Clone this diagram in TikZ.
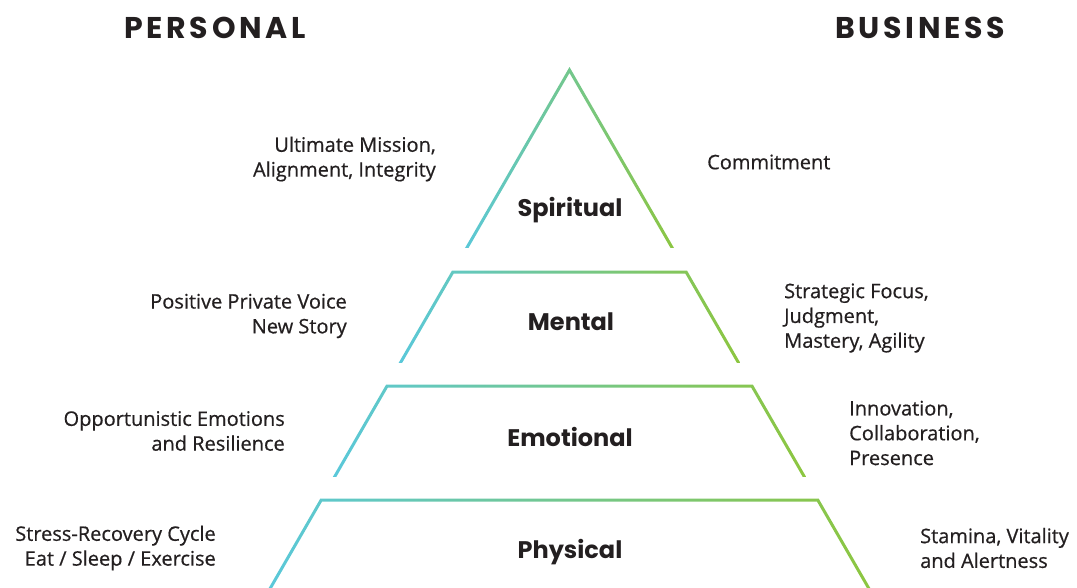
\documentclass[tikz,border=0pt]{standalone}
\usepackage{fontspec}
\setmainfont{Open Sans}
\newfontfamily\bodyfont{Open Sans}[FakeBold=0.6]
\newfontfamily\headfont{Poppins}[LetterSpace=12]
\newfontfamily\layerfont{Poppins}
\definecolor{pcyan}{RGB}{90,200,218}
\definecolor{pgreen}{RGB}{141,198,63}
\definecolor{ink}{RGB}{35,31,32}
\tikzset{
	side/.style={font=\bodyfont\fontsize{20}{24.8}\selectfont, text=ink, inner sep=0pt},
	leftside/.style={side, align=right, anchor=east},
	rightside/.style={side, align=left, anchor=west},
	layer/.style={font=\layerfont\bfseries\fontsize{24}{28}\selectfont, text=ink, inner sep=0pt},
	head/.style={font=\headfont\bfseries\fontsize{30}{32}\selectfont, text=ink, inner sep=0pt}
}
\begin{document}
\begin{tikzpicture}[x=1pt, y=-1pt]
	\useasboundingbox (0,0) rectangle (1077,587);
	\def\cx{569.5}
	\def\ay{70}
	% spiritual triangle
	\pgfmathsetmacro\ba{0.5774*(252-\ay)}
	\begin{scope}[even odd rule]
		\clip (\cx-\ba-1.732,252) -- (\cx,\ay-3) -- (\cx+\ba+1.732,252) -- cycle
			(\cx-\ba+1.732,252) -- (\cx,\ay+3) -- (\cx+\ba-1.732,252) -- cycle;
		\shade[left color=pcyan, right color=pgreen] (\cx-\ba-3,\ay-4) rectangle (\cx+\ba+3,247);
	\end{scope}
	% the three lower layers
	\foreach \yt/\yb in {272/362, 386/476, 500/592}{
		\pgfmathsetmacro\ta{0.5774*(\yt-\ay)}
		\pgfmathsetmacro\ba{0.5774*(\yb+5-\ay)}
		\begin{scope}[even odd rule]
			\clip (\cx-\ba-1.732,\yb+5) -- (\cx-\ta-0.866,\yt-1.5) -- (\cx+\ta+0.866,\yt-1.5) -- (\cx+\ba+1.732,\yb+5) -- cycle
				(\cx-\ba+1.732,\yb+5) -- (\cx-\ta+0.866,\yt+1.5) -- (\cx+\ta-0.866,\yt+1.5) -- (\cx+\ba-1.732,\yb+5) -- cycle;
			\shade[left color=pcyan, right color=pgreen] (\cx-\ba,\yt-3) rectangle (\cx+\ba,\yb);
		\end{scope}
	}
	\node[head] (personal) at (215,28) {PERSONAL};
	\node[head] (business) at (920,28) {BUSINESS};
	\node[layer] (spiritual) at (570,210) {Spiritual};
	\node[layer] (mental) at (571,322) {Mental};
	\node[layer] (emotional) at (570,437) {Emotional};
	\node[layer] (physical) at (570,552) {Physical};
	\node[leftside] (mission) at (436,159) {Ultimate Mission,\\Alignment, Integrity};
	\node[leftside] (voice) at (347,316) {Positive Private Voice\\New Story};
	\node[leftside] (emotions) at (285,431) {Opportunistic Emotions\\and Resilience};
	\node[leftside] (recovery) at (216,548) {Stress-Recovery Cycle\\Eat / Sleep / Exercise};
	\node[rightside] (commitment) at (707,162) {Commitment};
	\node[rightside] (focus) at (784,318) {Strategic Focus,\\Judgment,\\Mastery, Agility};
	\node[rightside] (innovation) at (849,433) {Innovation,\\Collaboration,\\Presence};
	\node[rightside] (stamina) at (920,548) {Stamina, Vitality\\and Alertness};
\end{tikzpicture}
\end{document}
